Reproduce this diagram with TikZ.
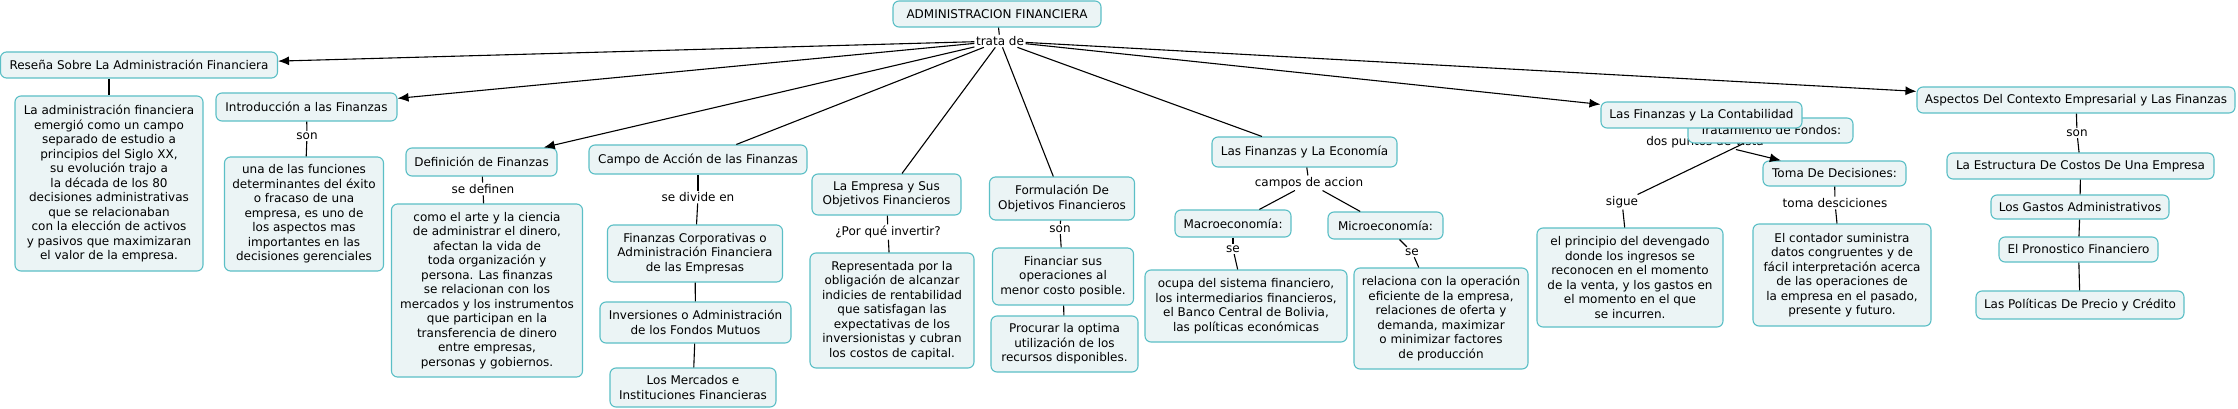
\documentclass[tikz,border=0pt]{standalone}
\usepackage{fontspec}
\setmainfont{DejaVu Sans}
\usetikzlibrary{arrows.meta}
\definecolor{cborder}{HTML}{5BBFC6}
\definecolor{cfill}{HTML}{EBF4F5}
\tikzset{
  cbox/.style={draw=cborder, fill=cfill, rounded corners=6pt, line width=1.1pt, align=center, inner sep=0pt, font=\fontsize{12}{14.5}\selectfont},
  lbl/.style={inner sep=1.5pt, font=\fontsize{12}{13}\selectfont},
  conn/.style={draw=black, line width=1.1pt},
  arr/.style={conn, -{Latex[length=11pt,width=9pt]}}
}
\begin{document}
\begin{tikzpicture}[x=1pt,y=-1pt]
\useasboundingbox[fill=white] (0,0) rectangle (2238,409);
% top
\node[cbox, minimum width=208pt, minimum height=26pt] (adm) at (997,14) {ADMINISTRACION FINANCIERA};
\node[lbl] (trata) at (1000,41) {trata de};
% left
\node[cbox, minimum width=277pt, minimum height=26pt] (resena) at (139,65) {Reseña Sobre La Administración Financiera};
\node[cbox, minimum width=188pt, minimum height=175pt] (ladm) at (109,183.5) {La administración financiera\\emergió como un campo\\separado de estudio a\\principios del Siglo XX,\\su evolución trajo a\\la década de los 80\\decisiones administrativas\\que se relacionaban\\con la elección de activos\\y pasivos que maximizaran\\el valor de la empresa.};
\node[cbox, minimum width=181pt, minimum height=28pt] (intro) at (306.5,107) {Introducción a las Finanzas};
\node[lbl] (son1) at (307,136) {son};
\node[cbox, minimum width=159pt, minimum height=114pt] (una) at (304,214) {una de las funciones\\determinantes del éxito\\o fracaso de una\\empresa, es uno de\\los aspectos mas\\importantes en las\\decisiones gerenciales};
\node[cbox, minimum width=151pt, minimum height=28pt] (defin) at (481.5,162) {Definición de Finanzas};
\node[lbl] (sedef) at (483,189) {se definen};
\node[cbox, minimum width=191pt, minimum height=173pt] (como) at (487,290.5) {como el arte y la ciencia\\de administrar el dinero,\\afectan la vida de\\toda organización y\\persona. Las finanzas\\se relacionan con los\\mercados y los instrumentos\\que participan en la\\transferencia de dinero\\entre empresas,\\personas y gobiernos.};
% campo
\node[cbox, minimum width=218pt, minimum height=29pt] (campo) at (698,159.5) {Campo de Acción de las Finanzas};
\node[lbl] (sediv) at (698,197) {se divide en};
\node[cbox, minimum width=175pt, minimum height=57pt] (fincorp) at (695,253.5) {Finanzas Corporativas o\\Administración Financiera\\de las Empresas};
\node[cbox, minimum width=191pt, minimum height=41pt] (inver) at (695.5,322.5) {Inversiones o Administración\\de los Fondos Mutuos};
\node[cbox, minimum width=166pt, minimum height=39pt] (merc) at (693,387.5) {Los Mercados e\\Instituciones Financieras};
% empresa
\node[cbox, minimum width=149pt, minimum height=41pt] (empresa) at (886.5,194.5) {La Empresa y Sus\\Objetivos Financieros};
\node[lbl] (porque) at (888,232) {¿Por qué invertir?};
\node[cbox, minimum width=164pt, minimum height=115pt] (repr) at (892,310.5) {Representada por la\\obligación de alcanzar\\indicies de rentabilidad\\que satisfagan las\\expectativas de los\\inversionistas y cubran\\los costos de capital.};
% formulacion
\node[cbox, minimum width=145pt, minimum height=43pt] (formu) at (1062,198.5) {Formulación De\\Objetivos Financieros};
\node[lbl] (son2) at (1060,229) {son};
\node[cbox, minimum width=141pt, minimum height=57pt] (financ) at (1063,276.5) {Financiar sus\\operaciones al\\menor costo posible.};
\node[cbox, minimum width=147pt, minimum height=56pt] (procur) at (1064.5,344) {Procurar la optima\\utilización de los\\recursos disponibles.};
% economia
\node[cbox, minimum width=185pt, minimum height=30pt] (econ) at (1304.5,152) {Las Finanzas y La Economía};
\node[lbl] (campos) at (1309,183) {campos de accion};
\node[cbox, minimum width=116pt, minimum height=27pt] (macro) at (1233,223.5) {Macroeconomía:};
\node[cbox, minimum width=115pt, minimum height=27pt] (micro) at (1385.5,225.5) {Microeconomía:};
\node[lbl] (se1) at (1233,249) {se};
\node[lbl] (se2) at (1412,252) {se};
\node[cbox, minimum width=202pt, minimum height=72pt] (ocupa) at (1246,306) {ocupa del sistema financiero,\\los intermediarios financieros,\\el Banco Central de Bolivia,\\las políticas económicas};
\node[cbox, minimum width=174pt, minimum height=101pt] (relac) at (1441,318.5) {relaciona con la operación\\eficiente de la empresa,\\relaciones de oferta y\\demanda, maximizar\\o minimizar factores\\de producción};
% contabilidad
\node[lbl] (dospv) at (1705,142) {dos puntos de vista};
\node[cbox, minimum width=165pt, minimum height=25pt] (trat) at (1770.5,130.5) {Tratamiento de Fondos:};
\node[cbox, minimum width=201pt, minimum height=26pt] (conta) at (1701.5,115) {Las Finanzas y La Contabilidad};
\node[cbox, minimum width=143pt, minimum height=25pt] (toma) at (1834.5,173.5) {Toma De Decisiones:};
\node[lbl] (sigue) at (1622,202) {sigue};
\node[lbl] (tomad) at (1835,203) {toma desciciones};
\node[cbox, minimum width=186pt, minimum height=99pt] (princ) at (1630,277.5) {el principio del devengado\\donde los ingresos se\\reconocen en el momento\\de la venta, y los gastos en\\el momento en el que\\se incurren.};
\node[cbox, minimum width=178pt, minimum height=102pt] (conta2) at (1842,275) {El contador suministra\\datos congruentes y de\\fácil interpretación acerca\\de las operaciones de\\la empresa en el pasado,\\presente y futuro.};
% aspectos
\node[cbox, minimum width=318pt, minimum height=26pt] (asp) at (2076,100) {Aspectos Del Contexto Empresarial y Las Finanzas};
\node[lbl] (son3) at (2077,133) {son};
\node[cbox, minimum width=267pt, minimum height=26pt] (estr) at (2080.5,166) {La Estructura De Costos De Una Empresa};
\node[cbox, minimum width=178pt, minimum height=24pt] (gastos) at (2080,207) {Los Gastos Administrativos};
\node[cbox, minimum width=159pt, minimum height=25pt] (pron) at (2078.5,249.5) {El Pronostico Financiero};
\node[cbox, minimum width=208pt, minimum height=28pt] (polit) at (2080,305) {Las Políticas De Precio y Crédito};
% connectors
\draw[conn] (adm) -- (trata);
\draw[arr] (trata) -- (resena);
\draw[arr] (trata) -- (intro);
\draw[arr] (trata) -- (defin);
\draw[conn] (trata) -- (campo);
\draw[conn] (trata) -- (empresa);
\draw[conn] (trata) -- (formu);
\draw[conn] (trata) -- (econ);
\draw[arr] (trata) -- (conta);
\draw[arr] (trata) -- (asp);
\draw[conn] (ladm.north |- resena.south) -- (ladm.north);
\draw[conn] (intro) -- (son1);
\draw[conn] (son1) -- (una);
\draw[conn] (defin) -- (sedef);
\draw[conn] (sedef) -- (como);
\draw[conn] (campo) -- (sediv);
\draw[conn] (sediv) -- (fincorp);
\draw[conn] (fincorp) -- (inver);
\draw[conn] (inver) -- (merc);
\draw[conn] (empresa) -- (porque);
\draw[conn] (porque) -- (repr);
\draw[conn] (formu) -- (son2);
\draw[conn] (son2) -- (financ);
\draw[conn] (financ) -- (procur);
\draw[conn] (econ) -- (campos);
\draw[conn] (campos) -- (macro);
\draw[conn] (campos) -- (micro);
\draw[conn] (macro) -- (se1);
\draw[conn] (se1) -- (ocupa);
\draw[conn] (micro) -- (se2);
\draw[conn] (se2) -- (relac);
\draw[arr] (dospv) -- (toma);
\draw[conn] (trat) -- (sigue);
\draw[conn] (sigue) -- (princ);
\draw[conn] (toma) -- (tomad);
\draw[conn] (tomad) -- (conta2);
\draw[conn] (asp) -- (son3);
\draw[conn] (son3) -- (estr);
\draw[conn] (estr) -- (gastos);
\draw[conn] (gastos) -- (pron);
\draw[conn] (pron) -- (polit);
\end{tikzpicture}
\end{document}
